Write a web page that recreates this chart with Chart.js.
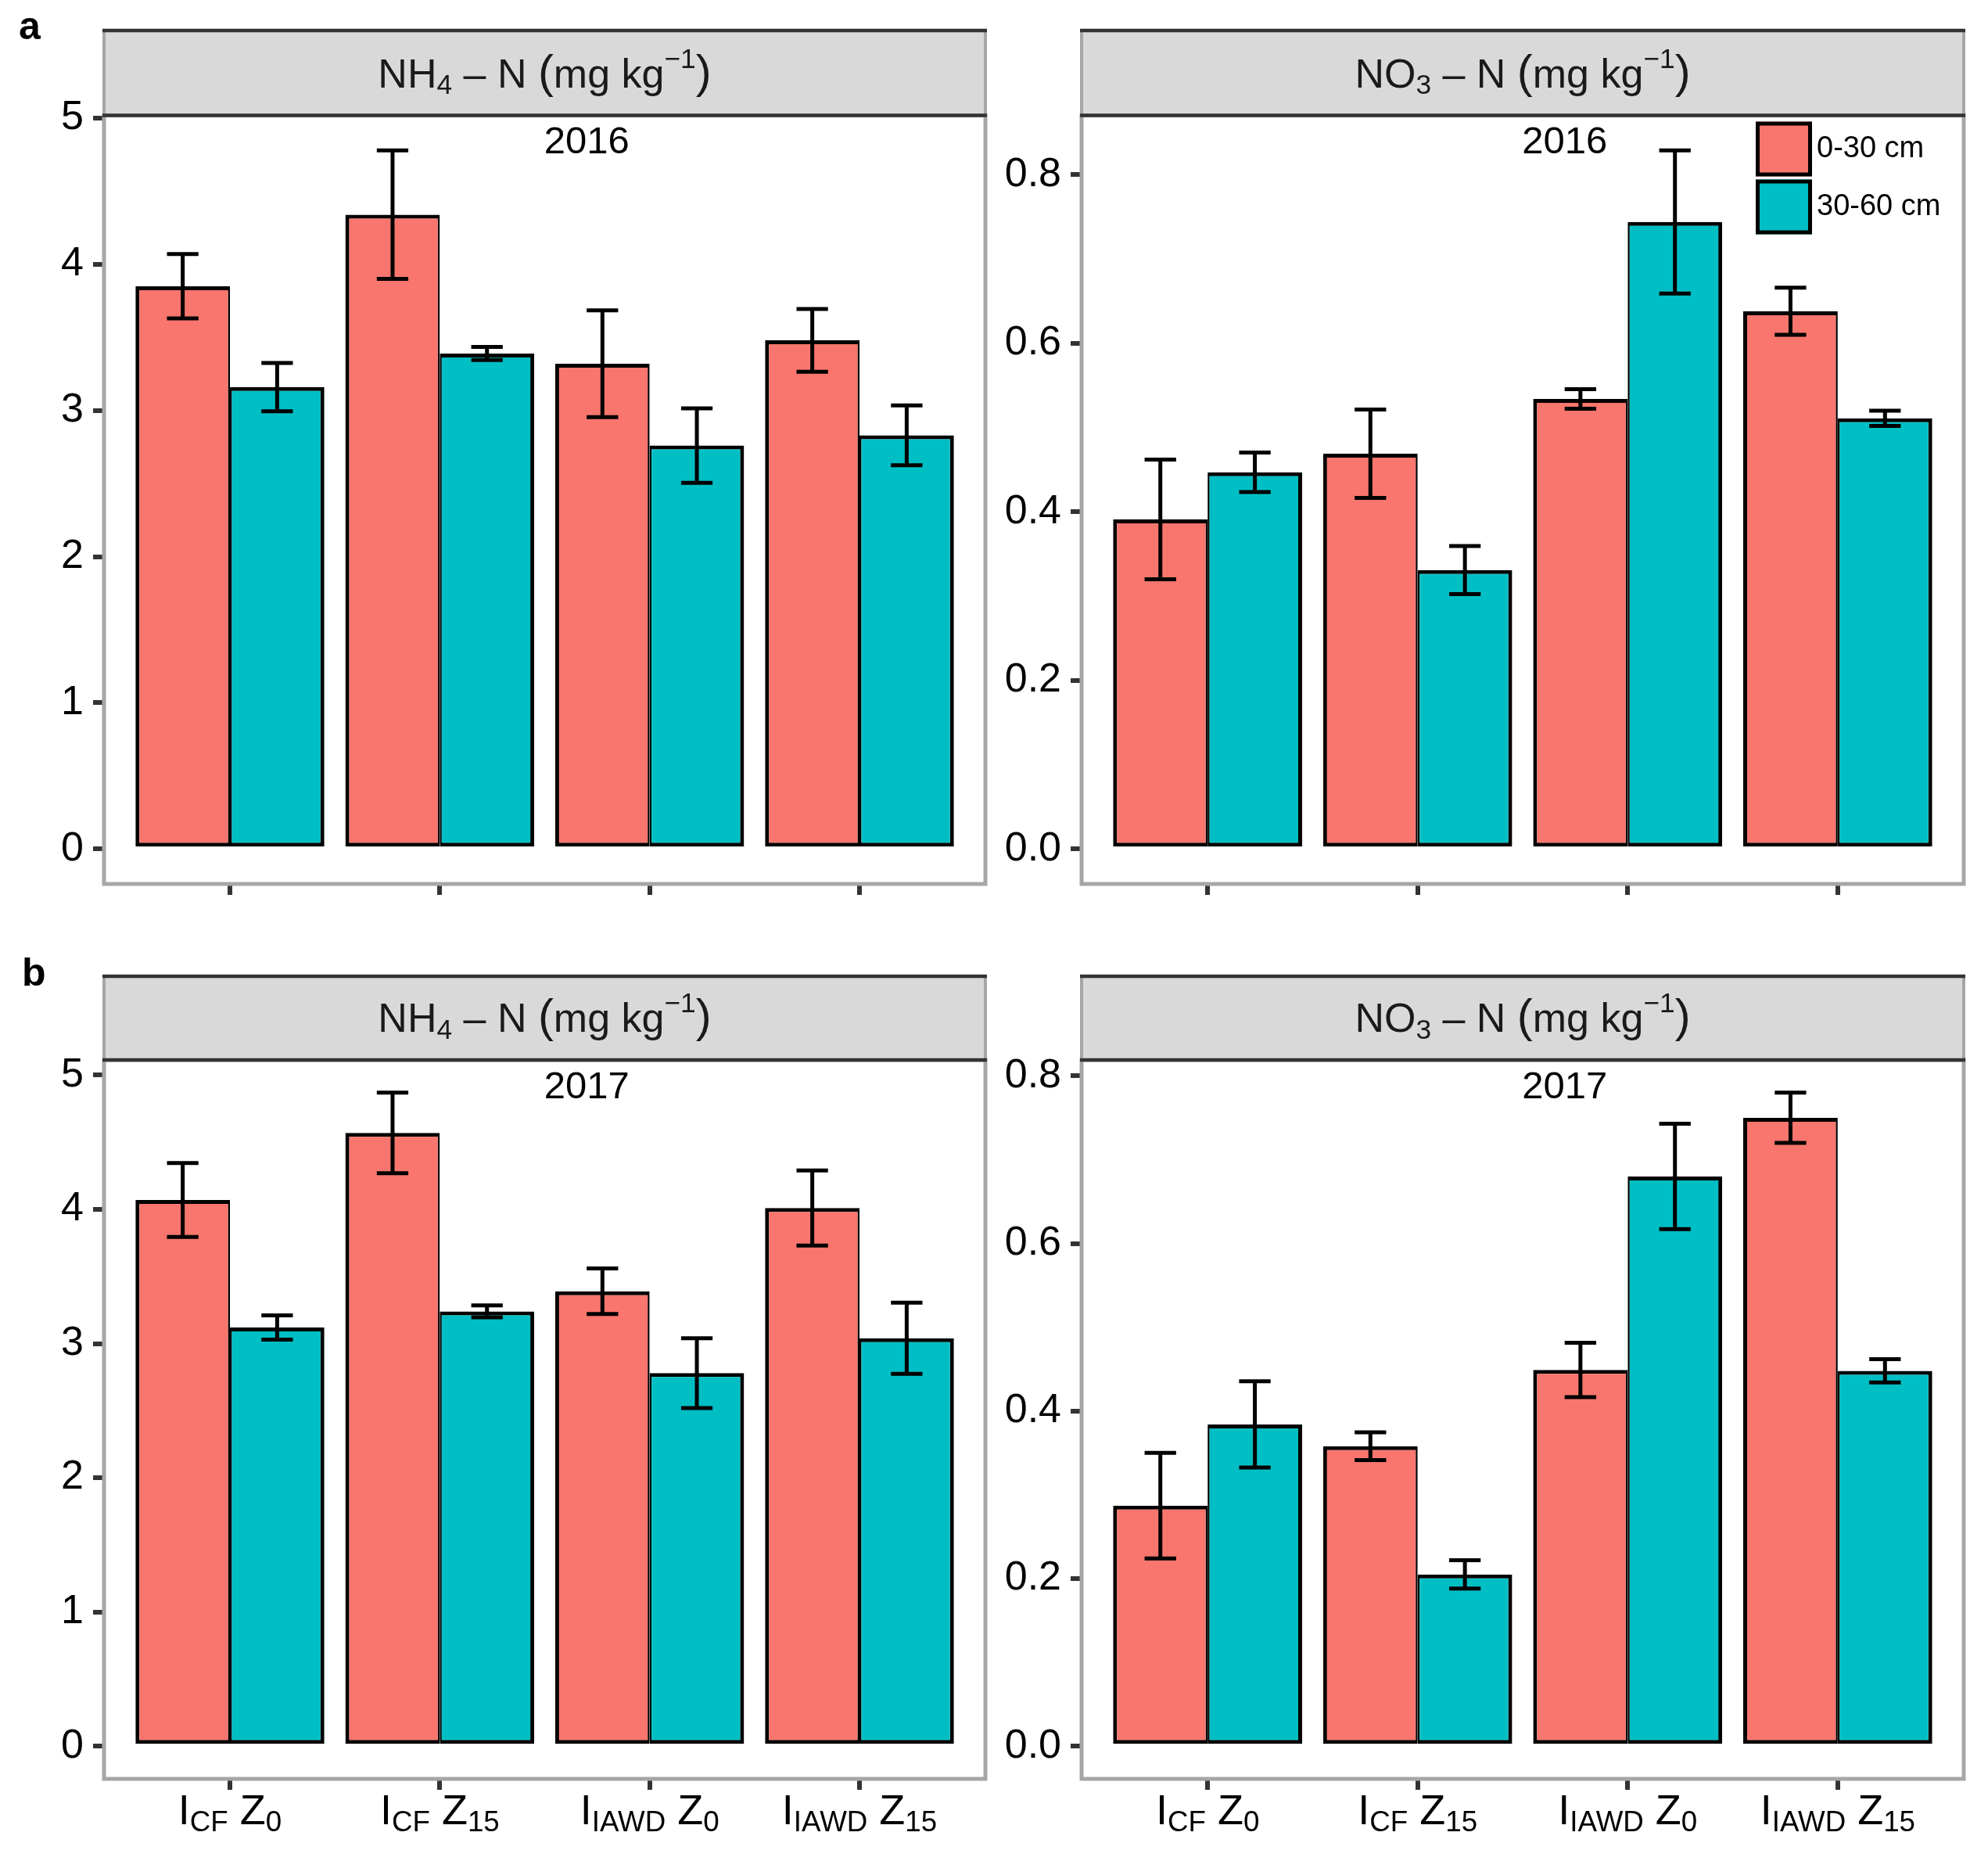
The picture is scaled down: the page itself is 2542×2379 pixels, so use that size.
<!DOCTYPE html>
<html>
<head>
<meta charset="utf-8">
<script src="https://cdn.jsdelivr.net/npm/chart.js@4.4.1/dist/chart.umd.min.js"></script>
<style>
  body { margin: 0; background: #fff; width: 2542px; height: 2379px; position: relative; overflow: hidden; font-family: 'Liberation Sans', Arial, sans-serif; }
  canvas { position: absolute; }
  .tag { position: absolute; font-weight: bold; font-size: 50px; line-height: 1; color: #000; }
</style>
</head>
<body>
<div class="tag" style="left:24px;top:8px">a</div>
<div class="tag" style="left:28px;top:1218px">b</div>
<canvas id="nh4a" width="1290" height="1190" style="left:0;top:0"></canvas>
<canvas id="no3a" width="1272" height="1190" style="left:1270px;top:0"></canvas>
<canvas id="nh4b" width="1290" height="1184" style="left:0;top:1195px"></canvas>
<canvas id="no3b" width="1272" height="1184" style="left:1270px;top:1195px"></canvas>
<script>
const FONT = "'Liberation Sans', Arial, sans-serif";

const treatments = ['I_{CF} Z_{0}', 'I_{CF} Z_{15}', 'I_{IAWD} Z_{0}', 'I_{IAWD} Z_{15}'];
const xPos = [1, 2, 3, 4];
const depths = ['0-30 cm', '30-60 cm'];
const depthColors = ['#F8766D', '#00BFC4'];
const years = ['2016', '2017'];
const nh4Ticks = [0, 1, 2, 3, 4, 5];
const no3Ticks = [0, 0.2, 0.4, 0.6, 0.8];

// NH4-N, 2016
const nh4_2016_top = [3.85, 4.34, 3.32, 3.48];
const nh4_2016_top_se = [0.22, 0.44, 0.365, 0.215];
const nh4_2016_sub = [3.16, 3.39, 2.76, 2.83];
const nh4_2016_sub_se = [0.165, 0.045, 0.255, 0.205];
// NO3-N, 2016
const no3_2016_top = [0.391, 0.469, 0.534, 0.638];
const no3_2016_top_se = [0.071, 0.0525, 0.0115, 0.028];
const no3_2016_sub = [0.447, 0.331, 0.744, 0.511];
const no3_2016_sub_se = [0.0235, 0.0285, 0.085, 0.009];
// NH4-N, 2017
const nh4_2017_top = [4.07, 4.57, 3.39, 4.01];
const nh4_2017_top_se = [0.275, 0.30, 0.17, 0.28];
const nh4_2017_sub = [3.12, 3.24, 2.78, 3.04];
const nh4_2017_sub_se = [0.09, 0.045, 0.26, 0.265];
// NO3-N, 2017
const no3_2017_top = [0.287, 0.358, 0.449, 0.750];
const no3_2017_top_se = [0.063, 0.0165, 0.0325, 0.030];
const no3_2017_sub = [0.384, 0.205, 0.680, 0.448];
const no3_2017_sub_se = [0.0515, 0.017, 0.063, 0.014];

const nh4Head = [['NH'], ['4', 'sub'], [' \u2013 N '], ['(', 'paren'], ['mg kg'], ['\u22121', 'sup'], [')', 'paren']];
const no3Head = [['NO'], ['3', 'sub'], [' \u2013 N '], ['(', 'paren'], ['mg kg'], ['\u22121', 'sup'], [')', 'paren']];

function parseLabel(str) {
  const out = [];
  str.replace(/_\{([^}]*)\}|([^_]+)/g, (m, sub, txt) => {
    out.push(sub !== undefined ? [sub, 'sub'] : [txt]);
    return m;
  });
  return out;
}

function drawRich(ctx, parts, cx, baseY, size, color) {
  const style = (kind) => {
    if (kind === 'sub') return { s: size * 0.68, dy: size * 0.17 };
    if (kind === 'sup') return { s: size * 0.68, dy: -size * 0.48 };
    if (kind === 'paren') return { s: size * 1.15, dy: 0 };
    return { s: size, dy: 0 };
  };
  let total = 0;
  const items = parts.map(([t, kind]) => {
    const st = style(kind);
    ctx.font = `${st.s}px ${FONT}`;
    const w = ctx.measureText(t).width;
    total += w;
    return { t, w, ...st };
  });
  let x = cx - total / 2;
  ctx.fillStyle = color;
  ctx.textAlign = 'left';
  ctx.textBaseline = 'alphabetic';
  items.forEach((it) => {
    ctx.font = `${it.s}px ${FONT}`;
    ctx.fillText(it.t, x, baseY + it.dy);
    x += it.w;
  });
}

const panelDecor = {
  id: 'panelDecor',
  afterDatasetsDraw(chart, args, o) {
    const { ctx, scales: { x, y } } = chart;
    const half = x.getPixelForValue(1 + 0.075) - x.getPixelForValue(1);
    ctx.save();
    ctx.strokeStyle = '#000';
    ctx.lineWidth = 5;
    chart.data.datasets.forEach((ds, i) => {
      chart.getDatasetMeta(i).data.forEach((bar, j) => {
        const v = ds.data[j].y, e = ds.se[j];
        const top = y.getPixelForValue(v + e), bot = y.getPixelForValue(v - e);
        ctx.beginPath();
        ctx.moveTo(bar.x, top); ctx.lineTo(bar.x, bot);
        ctx.moveTo(bar.x - half, top); ctx.lineTo(bar.x + half, top);
        ctx.moveTo(bar.x - half, bot); ctx.lineTo(bar.x + half, bot);
        ctx.stroke();
      });
    });
    ctx.restore();
  },
  afterDraw(chart, args, o) {
    const { ctx, chartArea: a, scales: { x } } = chart;
    ctx.save();
    // panel border
    ctx.strokeStyle = '#a6a6a6';
    ctx.lineWidth = 5;
    ctx.strokeRect(a.left, a.top, a.right - a.left, a.bottom - a.top);
    // facet strip
    const sTop = a.top - o.stripHeight;
    ctx.fillStyle = '#d9d9d9';
    ctx.fillRect(a.left, sTop, a.right - a.left, o.stripHeight);
    ctx.strokeStyle = '#a6a6a6';
    ctx.lineWidth = 4;
    ctx.strokeRect(a.left, sTop, a.right - a.left, o.stripHeight);
    ctx.strokeStyle = '#333';
    ctx.lineWidth = 4.5;
    ctx.beginPath();
    ctx.moveTo(a.left - 2, sTop); ctx.lineTo(a.right + 2, sTop);
    ctx.moveTo(a.left - 2, a.top); ctx.lineTo(a.right + 2, a.top);
    ctx.stroke();
    drawRich(ctx, o.head, (a.left + a.right) / 2, a.top - 36, 52, '#1a1a1a');
    // year annotation
    ctx.fillStyle = '#000';
    ctx.font = `49px ${FONT}`;
    ctx.textAlign = 'center';
    ctx.textBaseline = 'middle';
    ctx.fillText(o.year, x.getPixelForValue(2.7), a.top + 35);
    // treatment labels
    if (o.xLabels) {
      treatments.forEach((t, i) => {
        drawRich(ctx, parseLabel(t), x.getPixelForValue(xPos[i]), a.bottom + 58, 54, '#000');
      });
    }
    // legend
    if (o.legend) {
      const kx = a.right - 266, kw = 72, kh = 70;
      chart.data.datasets.forEach((ds, i) => {
        const ky = a.top + 8 + i * (kh + 4);
        ctx.fillStyle = ds.backgroundColor;
        ctx.fillRect(kx, ky, kw, kh);
        ctx.strokeStyle = '#000';
        ctx.lineWidth = 5;
        ctx.strokeRect(kx + 2.5, ky + 2.5, kw - 5, kh - 5);
        ctx.fillStyle = '#000';
        ctx.font = `38px ${FONT}`;
        ctx.textAlign = 'left';
        ctx.textBaseline = 'middle';
        ctx.fillText(ds.label, kx + kw + 6, ky + kh / 2);
      });
    }
    ctx.restore();
  }
};

function makePanel(id, cfg) {
  const hi = Math.max(...cfg.series.flatMap(([m, se]) => m.map((v, i) => v + se[i])));
  const datasets = cfg.series.map(([m, se], k) => ({
    label: depths[k],
    data: m.map((v, i) => ({ x: xPos[i], y: v })),
    se,
    backgroundColor: depthColors[k],
    borderColor: '#000',
    borderWidth: k === 0 ? { top: 5, left: 5, bottom: 5, right: 2.5 } : { top: 5, left: 2.5, bottom: 5, right: 5 },
    borderSkipped: false,
    categoryPercentage: 0.9,
    barPercentage: 1.0
  }));
  return new Chart(document.getElementById(id), {
    type: 'bar',
    data: { datasets },
    plugins: [panelDecor],
    options: {
      responsive: false,
      devicePixelRatio: 1,
      animation: false,
      layout: { padding: { left: 0, right: cfg.padRight, top: cfg.padTop, bottom: 0 } },
      plugins: {
        legend: { display: false },
        tooltip: { enabled: false },
        panelDecor: { head: cfg.head, year: cfg.year, legend: cfg.legend, xLabels: cfg.xLabels, stripHeight: cfg.stripHeight }
      },
      scales: {
        x: {
          type: 'linear', min: 0.4, max: 4.6, bounds: 'data', offset: false,
          afterBuildTicks: (s) => { s.ticks = xPos.map((v) => ({ value: v })); },
          afterFit: (s) => { s.height = cfg.xHeight; },
          ticks: { display: false },
          grid: { drawOnChartArea: false, drawTicks: true, tickLength: 14, color: '#333', lineWidth: 6, offset: false },
          border: { display: false }
        },
        y: {
          min: -0.05 * hi, max: 1.05 * hi, bounds: 'data',
          afterBuildTicks: (s) => { s.ticks = cfg.ticks.map((v) => ({ value: v })); },
          afterFit: (s) => { s.width = cfg.yWidth; },
          ticks: { callback: cfg.fmt, font: { family: FONT, size: 52 }, color: '#000', padding: 12 },
          grid: { drawOnChartArea: false, drawTicks: true, tickLength: 14, color: '#333', lineWidth: 6 },
          border: { display: false }
        }
      }
    }
  });
}

const fmtInt = (v) => String(v);
const fmtDec = (v) => v.toFixed(1);

makePanel('nh4a', { head: nh4Head, year: years[0], ticks: nh4Ticks, fmt: fmtInt,
  series: [[nh4_2016_top, nh4_2016_top_se], [nh4_2016_sub, nh4_2016_sub_se]],
  padTop: 147.5, padRight: 30, yWidth: 133, xHeight: 60, stripHeight: 108.5, legend: false, xLabels: false });
makePanel('no3a', { head: no3Head, year: years[0], ticks: no3Ticks, fmt: fmtDec,
  series: [[no3_2016_top, no3_2016_top_se], [no3_2016_sub, no3_2016_sub_se]],
  padTop: 147.5, padRight: 31, yWidth: 113, xHeight: 60, stripHeight: 108.5, legend: true, xLabels: false });
makePanel('nh4b', { head: nh4Head, year: years[1], ticks: nh4Ticks, fmt: fmtInt,
  series: [[nh4_2017_top, nh4_2017_top_se], [nh4_2017_sub, nh4_2017_sub_se]],
  padTop: 160, padRight: 30, yWidth: 133, xHeight: 105, stripHeight: 107, legend: false, xLabels: true });
makePanel('no3b', { head: no3Head, year: years[1], ticks: no3Ticks, fmt: fmtDec,
  series: [[no3_2017_top, no3_2017_top_se], [no3_2017_sub, no3_2017_sub_se]],
  padTop: 160, padRight: 31, yWidth: 113, xHeight: 105, stripHeight: 107, legend: false, xLabels: true });
</script>
</body>
</html>
